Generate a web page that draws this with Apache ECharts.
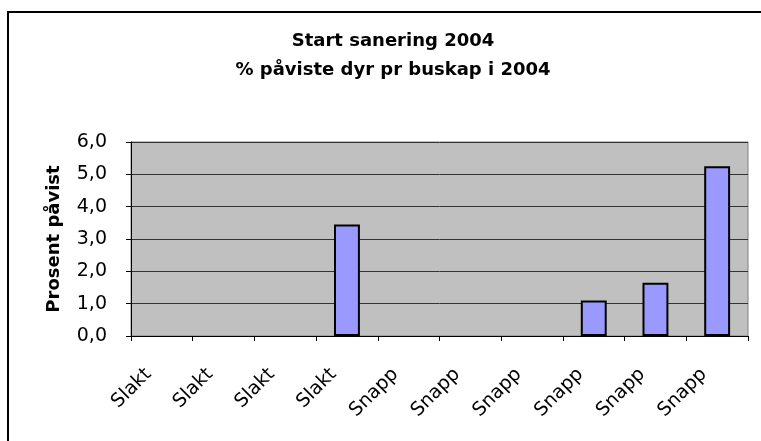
<!DOCTYPE html>
<html>
<head>
<meta charset="utf-8">
<script src="https://cdn.jsdelivr.net/npm/echarts@6/dist/echarts.min.js"></script>
<style>html,body{margin:0;padding:0;background:#fff}#c{width:761px;height:441px}</style>
</head>
<body>
<div id="c"></div>
<script>
var categories = ['Slakt','Slakt','Slakt','Slakt','Snapp','Snapp','Snapp','Snapp','Snapp','Snapp'];
var values = [0, 0, 0, 3.45, 0, 0, 0, 1.1, 1.65, 5.25];
var titleText = 'Start sanering 2004\n% påviste dyr pr buskap i 2004';
var yName = 'Prosent påvist';

var chart = echarts.init(document.getElementById('c'), null, {renderer: 'canvas'});
var font = '"DejaVu Sans", sans-serif';
chart.setOption({
  animation: false,
  backgroundColor: '#fff',
  graphic: [{
    type: 'rect', silent: true, z: -10,
    shape: {x: 8, y: 12, width: 800, height: 500},
    style: {fill: 'none', stroke: '#000', lineWidth: 2}
  }],
  title: {
    text: titleText,
    left: 388, top: 22, textAlign: 'center',
    textStyle: {fontFamily: font, fontSize: 18, fontWeight: 'bold', color: '#000', lineHeight: 29}
  },
  grid: {
    left: 131, right: 13, top: 142, bottom: 105,
    show: true, backgroundColor: '#c0c0c0', borderColor: '#808080', borderWidth: 1
  },
  xAxis: {
    type: 'category',
    data: categories,
    axisLine: {lineStyle: {color: '#000', width: 1}},
    axisTick: {show: true, length: 5, inside: false, lineStyle: {color: '#000'}},
    axisLabel: {rotate: 45, margin: 22, padding: [0, 19, 0, 0], fontFamily: font, fontSize: 19, color: '#000', interval: 0}
  },
  yAxis: {
    type: 'value', min: 0, max: 6, interval: 1,
    name: yName, nameLocation: 'middle', nameGap: 68, nameRotate: 90,
    nameTextStyle: {fontFamily: font, fontSize: 18, fontWeight: 'bold', color: '#000'},
    axisLine: {show: true, lineStyle: {color: '#000', width: 1}},
    axisTick: {show: true, length: 5, lineStyle: {color: '#000'}},
    axisLabel: {margin: 24, fontFamily: font, fontSize: 19, color: '#000',
      formatter: function (v) { return v.toFixed(1).replace('.', ','); }},
    splitLine: {show: true, lineStyle: {color: '#333', width: 1}}
  },
  series: [{
    type: 'bar',
    data: values.map(function (v) { return v === 0 ? {value: v, itemStyle: {borderWidth: 0}} : v; }),
    barWidth: '42%',
    itemStyle: {color: '#9999ff', borderColor: '#000', borderWidth: 2}
  }]
});
</script>
</body>
</html>
